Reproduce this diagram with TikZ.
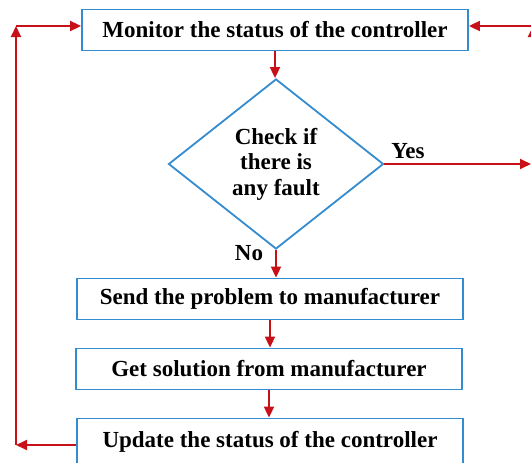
\documentclass[tikz,border=0pt]{standalone}
\usepackage{fontspec}
\setmainfont{Liberation Serif}
\usetikzlibrary{shapes.geometric,arrows.meta}
\definecolor{boxblue}{RGB}{52,140,208}
\definecolor{arrred}{RGB}{200,16,24}

\begin{document}
\begin{tikzpicture}
  [x=1pt,y=-1pt,
   every node/.style={font=\fontsize{23}{25.5}\selectfont\bfseries, inner sep=0pt},
   stepbox/.style={draw=boxblue, line width=1.8pt, rectangle, minimum width=386pt, minimum height=41pt},
   check/.style={draw=boxblue, line width=1.8pt, diamond, minimum width=215pt, minimum height=170pt, align=center},
   flow/.style={draw=arrred, line width=1.8pt, -{Triangle[length=11pt,width=10pt]}}]
  \useasboundingbox (0,0) rectangle (531,463);

  \node[stepbox] (mon) at (275,30) {Monitor the status of the controller};
  \node[check] (chk) at (276,164) {Check if\\there is\\any fault};
  \node[stepbox] (send) at (270,299) {Send the problem to manufacturer};
  \node[stepbox] (get) at (269,369) {Get solution from manufacturer};
  \node[stepbox, minimum height=47pt] (upd) at (270,442) {Update the status of the controller};

  \node (yes) at (408,151) {Yes};
  \node (no) at (249,253) {No};

  \coordinate (lb) at (16,445);
  \coordinate (lt) at (16,26);
  \coordinate (rt) at (533,26);
  \coordinate (rb) at (533,90);
  \coordinate (yend) at (531,164);

  \foreach \from/\to in {mon/chk, chk/send, send/get, get/upd}
    \draw[flow] (\from.south) -- (\from.south |- \to.north);

  % loop back on the left
  \draw[flow] (upd.west |- lb) -- (lb);
  \draw[flow] (lb) -- (lt);
  \draw[flow] (lt) -- (mon.west |- lt);

  % right side
  \draw[flow] (rt) -- (mon.east |- rt);
  \draw[flow] (rb) -- (rt);
  \draw[flow] (chk.east) -- (yend);
\end{tikzpicture}
\end{document}
